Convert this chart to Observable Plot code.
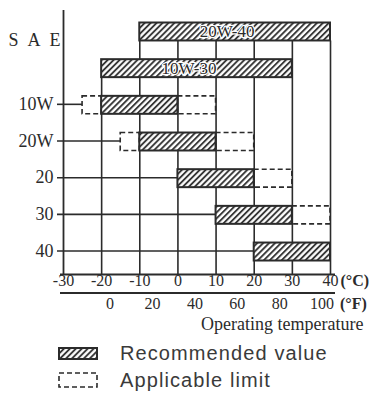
<!DOCTYPE html>
<html>
<head>
<meta charset="utf-8">
<script src="https://cdn.jsdelivr.net/npm/d3@7"></script>
<script src="https://cdn.jsdelivr.net/npm/@observablehq/plot@0.6"></script>
<style>
  body { margin: 0; background: #fff; }
  #chart svg, #legend svg { display: block; }
</style>
</head>
<body>
<div id="chart"></div>
<div id="legend"></div>
<script>
// ---- data ----
const grades      = ["20W-40", "10W-30", "10W", "20W", "20", "30", "40"];
const recFrom     = [-10, -20, -20, -10,   0,  10,  20];   // recommended range start (°C)
const recTo       = [ 40,  30,   0,  10,  20,  30,  40];   // recommended range end (°C)
const limitFrom   = [null, null, -25, -15, null, null, null]; // applicable limit, low side (°C)
const limitTo     = [null, null,  10,  20,  30,   40, null]; // applicable limit, high side (°C)
const celsiusTicks    = [-30, -20, -10, 0, 10, 20, 30, 40];
const fahrenheitTicks = [0, 20, 40, 60, 80, 100];
const axisTitle   = "Operating temperature";
const legendLabels = ["Recommended value", "Applicable limit"];

// ---- derived table ----
const rows = grades.map((g, i) => ({
  grade: g, row: i, from: recFrom[i], to: recTo[i],
  limFrom: limitFrom[i], limTo: limitTo[i], multi: g.includes("-")
}));
const half = 0.245;
const yMin = -0.586, yMax = 6.613;
const ink = "#2b2b2b";
const serif = "Liberation Serif, Times New Roman, serif";

const grid = celsiusTicks.slice(1).map(t => {
  const top = rows.find(r => r.from <= t && t <= r.to);
  return {t, top: top.row + half};
});

const separator = (index, scales, values, dims) => {
  const y = dims.height - dims.marginBottom + 19;
  const l = document.createElementNS("http://www.w3.org/2000/svg", "line");
  l.setAttribute("x1", scales.x(celsiusTicks[0]) - 3);
  l.setAttribute("x2", scales.x(celsiusTicks[celsiusTicks.length - 1]) + 5);
  l.setAttribute("y1", y); l.setAttribute("y2", y);
  l.setAttribute("stroke", ink); l.setAttribute("stroke-width", 1.8);
  return l;
};

const f2c = f => (f - 32) * 5 / 9;
const lastC = celsiusTicks[celsiusTicks.length - 1];
const lastF = fahrenheitTicks[fahrenheitTicks.length - 1];

const chart = Plot.plot({
  width: 376,
  height: 340,
  marginLeft: 63,
  marginRight: 46,
  marginTop: 10,
  marginBottom: 66,
  x: {domain: [celsiusTicks[0], lastC], axis: null},
  y: {domain: [yMin, yMax], reverse: true, axis: null},
  style: {background: "#fff", color: ink},
  marks: [
    // vertical grid lines
    Plot.ruleX(grid, {x: "t", y1: "top", y2: () => yMax, stroke: ink, strokeWidth: 1.6}),
    // axes
    Plot.ruleX([celsiusTicks[0]], {stroke: ink, strokeWidth: 1.8}),
    Plot.ruleY([yMax], {stroke: ink, strokeWidth: 2, insetLeft: -3, insetRight: -5}),
    separator,
    // leader lines for single grades
    Plot.ruleY(rows.filter(r => !r.multi), {
      y: "row", x1: () => celsiusTicks[0], x2: r => r.limFrom ?? r.from,
      stroke: ink, strokeWidth: 1.6, insetLeft: -6, dy: -1
    }),
    // applicable limits (dashed)
    Plot.rect(rows.filter(r => r.limFrom != null), {
      x1: "limFrom", x2: "from", y1: r => r.row - half, y2: r => r.row + half,
      fill: "none", stroke: ink, strokeWidth: 1.6, strokeDasharray: "5,3"
    }),
    Plot.rect(rows.filter(r => r.limTo != null), {
      x1: "to", x2: "limTo", y1: r => r.row - half, y2: r => r.row + half,
      fill: "none", stroke: ink, strokeWidth: 1.6, strokeDasharray: "5,3"
    }),
    // recommended (hatched)
    Plot.rect(rows, {
      x1: "from", x2: "to", y1: r => r.row - half, y2: r => r.row + half,
      fill: "url(#hatch)", stroke: ink, strokeWidth: 2
    }),
    // multigrade labels inside bars
    Plot.text(rows.filter(r => r.multi), {
      x: r => (r.from + r.to) / 2, y: "row", text: "grade", dx: -8,
      fontFamily: serif, fontSize: 17, fill: ink, stroke: "#fff", strokeWidth: 2.5
    }),
    // single grade labels
    Plot.text(rows.filter(r => !r.multi), {
      x: () => celsiusTicks[0], y: "row", text: "grade", textAnchor: "end", dx: -10, dy: -1,
      fontFamily: serif, fontSize: 18, fill: ink
    }),
    Plot.text(["S\u2002A\u2002E"], {
      frameAnchor: "top-left", textAnchor: "end", dx: -3, dy: 23,
      fontFamily: serif, fontSize: 18, fill: ink
    }),
    // °C labels
    Plot.text(celsiusTicks, {
      x: d => d, text: d => String(d), frameAnchor: "bottom", dy: 11,
      fontFamily: serif, fontSize: 16, fill: ink
    }),
    Plot.text(["(°C)"], {
      x: () => lastC, frameAnchor: "bottom", dy: 11, dx: 10, textAnchor: "start",
      fontFamily: serif, fontSize: 16, fontWeight: "bold", fill: ink
    }),
    // °F labels
    Plot.text(fahrenheitTicks, {
      x: f => f2c(f), text: f => String(f), frameAnchor: "bottom", dy: 34,
      fontFamily: serif, fontSize: 16, fill: ink
    }),
    Plot.text(["(°F)"], {
      x: () => f2c(lastF), frameAnchor: "bottom", dy: 34, dx: 18, textAnchor: "start",
      fontFamily: serif, fontSize: 16, fontWeight: "bold", fill: ink
    }),
    Plot.text([axisTitle], {
      frameAnchor: "bottom-right", textAnchor: "end", dx: 33, dy: 55,
      fontFamily: serif, fontSize: 18, fill: ink
    })
  ]
});

// hatch pattern
const defs = d3.select(chart).insert("defs", ":first-child");
function addHatch(defsSel, id) {
  const p = defsSel.append("pattern")
    .attr("id", id).attr("patternUnits", "userSpaceOnUse")
    .attr("width", 4.2).attr("height", 4.2)
    .attr("patternTransform", "rotate(45)");
  p.append("rect").attr("width", 4.2).attr("height", 4.2).attr("fill", "#fff");
  p.append("line").attr("x1", 1).attr("y1", 0).attr("x2", 1).attr("y2", 4.2)
    .attr("stroke", ink).attr("stroke-width", 1.8);
}
addHatch(defs, "hatch");
document.getElementById("chart").appendChild(chart);

// legend
const lg = d3.select("#legend").append("svg").attr("width", 376).attr("height", 53);
addHatch(lg.append("defs"), "hatchLegend");
lg.append("rect").attr("x", 59).attr("y", 8).attr("width", 38).attr("height", 11)
  .attr("fill", "url(#hatchLegend)").attr("stroke", ink).attr("stroke-width", 2);
lg.append("rect").attr("x", 59).attr("y", 33).attr("width", 38).attr("height", 14)
  .attr("fill", "none").attr("stroke", ink).attr("stroke-width", 1.6).attr("stroke-dasharray", "5,3");
lg.selectAll("text.lab").data(legendLabels).join("text")
  .attr("class", "lab")
  .attr("x", 120).attr("y", (d, i) => i === 0 ? 13 : 40)
  .attr("dominant-baseline", "central")
  .attr("font-family", "Liberation Sans, Arial, sans-serif")
  .attr("font-size", 20).attr("letter-spacing", 1.1)
  .attr("fill", "#3a3a3a")
  .text(d => d);
</script>
</body>
</html>
